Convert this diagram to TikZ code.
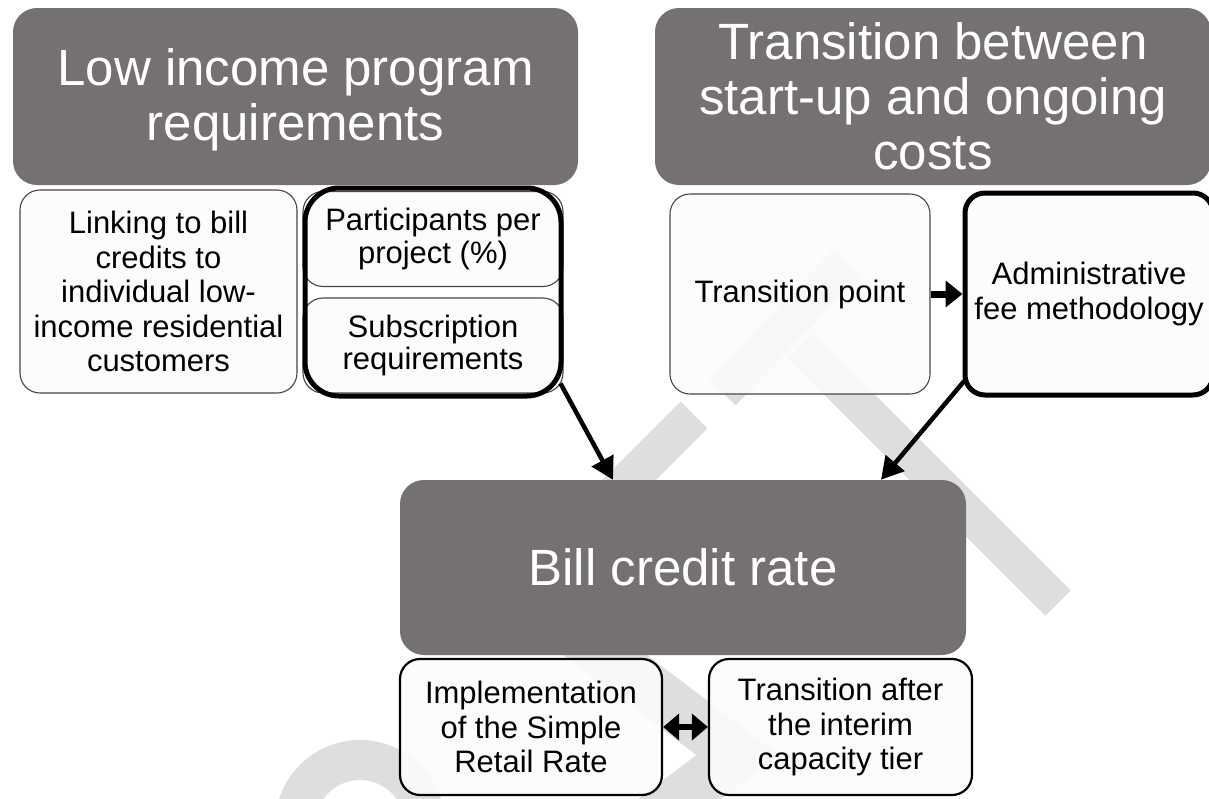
\documentclass[tikz,border=0pt]{standalone}
\usepackage{fontspec}
\setmainfont{Liberation Sans}
\usetikzlibrary{arrows.meta,calc}
\definecolor{hdr}{RGB}{117,113,113}
\definecolor{wm}{RGB}{222,222,222}
\definecolor{thinb}{RGB}{70,70,70}
\definecolor{boxfill}{RGB}{252,252,252}
\begin{document}
\begin{tikzpicture}[x=1pt,y=-1pt,
  hdrbox/.style={rectangle, rounded corners=24pt, fill=hdr, text=white,
    font=\fontsize{51}{55}\selectfont, align=center, inner sep=0pt},
  wbox/.style={rectangle, rounded corners=20pt, draw=thinb, line width=1.1pt,
    fill=boxfill, fill opacity=0.88, text opacity=1, text=black,
    font=\fontsize{31}{34.5}\selectfont, align=center, inner sep=0pt},
  bbox/.style={wbox, draw=black, line width=2.2pt},
  thickbox/.style={wbox, draw=black, line width=5pt},
  frame/.style={rectangle, rounded corners=34pt, draw=black, line width=5pt, inner sep=0pt},
  conn/.style={line width=4.5pt, -{Triangle[length=22pt,width=24pt]}},
  shortconn/.style={line width=7pt, -{Triangle[length=17pt,width=26pt]}},
  dblconn/.style={line width=6pt, {Triangle[length=16pt,width=26pt]}-{Triangle[length=16pt,width=26pt]}},
  wmbar/.style={draw=wm, line width=38pt},
]
\useasboundingbox (0,0) rectangle (1209,798);
\fill[white] (0,0) rectangle (1209,798);

% watermark
\draw[wmbar] (722,392) -- (848,262);
\draw[wmbar, line width=36pt] (800,345) -- (1058,603);
\draw[wmbar] (694,415) -- (560,549);
\draw[wmbar, line width=50pt, miter limit=10] (560,621) -- (738,755) -- (640,829);
\draw[wmbar, line width=40pt] (295,825) arc[start angle=180, end angle=-10, radius=65pt];

% header boxes
\node[hdrbox, minimum width=565pt, minimum height=177pt, text height=99pt] (h1) at (295.5,96.5)
  {Low income program\\requirements};
\node[hdrbox, minimum width=556pt, minimum height=177pt] (h2) at (933,96.5)
  {Transition between\\start-up and ongoing\\costs};

% low income sub boxes
\node[wbox, minimum width=277pt, minimum height=203pt] (link) at (158.5,291.5)
  {Linking to bill\\credits to\\individual low-\\income residential\\customers};
\node[wbox, minimum width=260pt, minimum height=95pt, font=\fontsize{31}{32.5}\selectfont] (part) at (433,239)
  {Participants per\\project (\%)};
\node[wbox, minimum width=260pt, minimum height=95pt, font=\fontsize{31}{32.5}\selectfont] (subs) at (433,345.5)
  {Subscription\\requirements};
\node[frame, minimum width=256pt, minimum height=208pt] (pframe) at (433,292) {};

% transition sub boxes
\node[wbox, minimum width=260pt, minimum height=200pt] (tp) at (800,294)
  {Transition point};
\node[thickbox, minimum width=248pt, minimum height=202pt] (admin) at (1089,294)
  {Administrative\\fee methodology};

% bill credit rate
\node[hdrbox, minimum width=566pt, minimum height=175pt] (bill) at (683,567.5)
  {Bill credit rate};
\node[bbox, minimum width=262pt, minimum height=136pt] (impl) at (531,727)
  {Implementation\\of the Simple\\Retail Rate};
\node[bbox, minimum width=263pt, minimum height=136pt] (tafter) at (840.5,727)
  {Transition after\\the interim\\capacity tier};

% connectors
\draw[shortconn] (tp.east) -- (admin.west);
\draw[conn] ($(pframe.south east)+(-3,-15)$) -- ($(bill.north)+(-70,0)$);
\draw[conn] ($(admin.south west)+(3,-18)$) -- ($(bill.north)+(198,0)$);
\draw[dblconn] (impl.east) -- (tafter.west);
\end{tikzpicture}
\end{document}
